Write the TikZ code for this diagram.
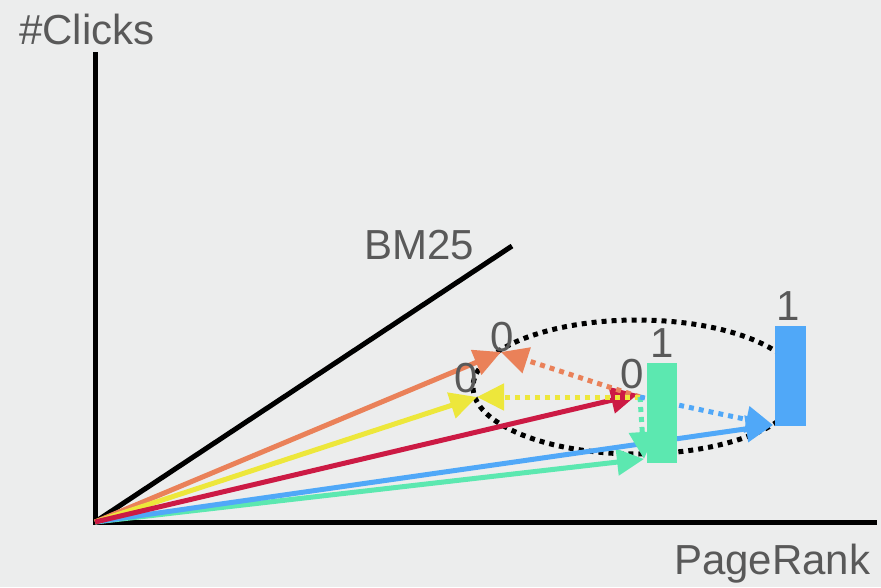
\documentclass[tikz,border=0pt]{standalone}
\usepackage{fontspec}
\setmainfont{Liberation Sans}
\usetikzlibrary{arrows.meta}
\definecolor{bg}{HTML}{ECEDED}
\definecolor{txt}{HTML}{595959}
\definecolor{vorange}{HTML}{EA8159}
\definecolor{vyellow}{HTML}{EDE73B}
\definecolor{vred}{HTML}{CC1A44}
\definecolor{vblue}{HTML}{50A8F8}
\definecolor{vgreen}{HTML}{5CE8B0}
\begin{document}
\begin{tikzpicture}[x=1pt,y=-1pt,
  axisline/.style={line width=5pt},
  vec/.style={line width=5pt,-{Triangle[length=27pt,width=26pt]}},
  dotvec/.style={line width=5pt,dash pattern=on 5pt off 5pt,-{Triangle[length=27pt,width=26pt]}},
  dotring/.style={line width=5pt,dash pattern=on 5pt off 5pt},
  lbl/.style={text=txt,font=\fontsize{42}{42}\selectfont,inner sep=0pt},
  bar/.style={inner sep=0pt,minimum width=31pt,minimum height=100pt}]
\fill[bg] (0,0) rectangle (881,587);
\useasboundingbox (0,0) rectangle (881,587);

% key points
\coordinate (O) at (95,522);
\coordinate (ytop) at (95,52);
\coordinate (xend) at (877,522);
\coordinate (bmend) at (512,246);
\coordinate (tO) at (501,352);
\coordinate (tY) at (477,397);
\coordinate (tR) at (638,394);
\coordinate (tB) at (773,425);
\coordinate (tG) at (644,459);
\coordinate (hub) at (640,397);

% dotted ring around the documents
\draw[dotring] (637,387) ellipse [x radius=164pt, y radius=67pt];

% axes and BM25 direction
\draw[axisline] (ytop) -- (O) -- (xend);
\draw[line width=5pt] (O) -- (bmend);

% score vectors
\draw[vec,vgreen] (O) -- (tG);
\draw[vec,vblue] (O) -- (tB);
\draw[vec,vorange] (O) -- (tO);
\draw[vec,vyellow] (O) -- (tY);
\draw[vec,vred] (O) -- (tR);

% pairwise differences
\draw[dotvec,vorange] (hub) -- (tO);
\draw[dotvec,vyellow] (hub) -- (tY);
\draw[dotvec,vgreen] (hub) -- (tG);
\draw[dotvec,vblue] (hub) -- (tB);

% relevant documents
\node[bar,fill=vgreen,minimum width=30pt] (gbar) at (662,413) {};
\node[bar,fill=vblue] (bbar) at (790.5,376) {};

% labels
\node[lbl,anchor=base west] (ylab) at (19,44) {\#Clicks};
\node[lbl,anchor=base west] (xlab) at (674,574) {PageRank};
\node[lbl,anchor=base west] (bmlab) at (364,259) {BM25};
\node[lbl] (l1) at (502,337) {0};
\node[lbl] (l2) at (466,378) {0};
\node[lbl] (l3) at (632,374) {0};
\node[lbl] (l4) at (662,343) {1};
\node[lbl] (l5) at (788,306) {1};
\end{tikzpicture}
\end{document}
